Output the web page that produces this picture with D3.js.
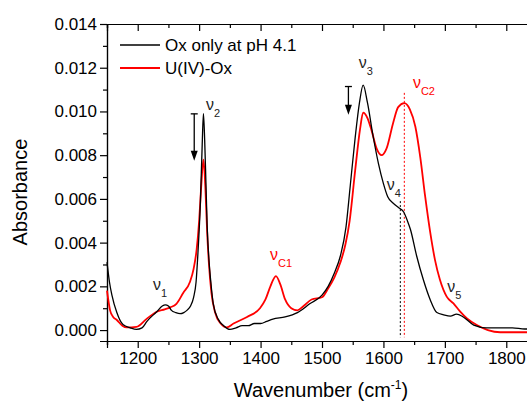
<!DOCTYPE html>
<html>
<head>
<meta charset="utf-8">
<script src="https://cdn.jsdelivr.net/npm/d3@7.9.0/dist/d3.min.js"></script>
<style>
  html, body { margin: 0; padding: 0; background: #fff; }
  svg { display: block; font-family: "Liberation Sans", Arial, sans-serif; }
  .axis path, .axis line { stroke: #000; stroke-width: 1.2; }
  .axis text { font-size: 17px; fill: #000; }
</style>
</head>
<body>
<div id="chart"></div>
<script>
// Ox only at pH 4.1 : [wavenumber, absorbance]
const oxOnly = [
  [1150, 0.0031], [1154, 0.0022], [1158, 0.0016], [1166, 0.0008], [1176, 0.00025],
  [1188, 0.0001], [1198, 0.00003], [1207, 0.0001], [1215, 0.0004], [1231, 0.00084],
  [1240, 0.0011], [1245, 0.00115], [1250, 0.0011], [1255, 0.0009], [1262, 0.0008],
  [1269, 0.00075], [1275, 0.0008], [1280, 0.0009], [1286, 0.0011], [1291, 0.0015],
  [1295, 0.0022], [1298, 0.0035], [1302, 0.0058], [1305, 0.0085], [1307, 0.0099],
  [1309, 0.0087], [1311, 0.0068], [1313, 0.0048], [1316, 0.0032], [1319, 0.0022],
  [1323, 0.0012], [1331, 0.0005], [1340, 0.0002], [1350, 0.00003], [1360, 0.0001],
  [1370, 0.0002], [1380, 0.0002], [1390, 0.0003], [1400, 0.0003], [1410, 0.0004],
  [1420, 0.0005], [1440, 0.0006], [1460, 0.0008], [1480, 0.0012], [1500, 0.0016],
  [1510, 0.0020], [1520, 0.0026], [1530, 0.0034], [1539, 0.0047], [1546, 0.0066],
  [1554, 0.0088], [1561, 0.0104], [1567, 0.0112], [1574, 0.0104], [1583, 0.0089],
  [1592, 0.0076], [1600, 0.0067], [1607, 0.0061], [1616, 0.0058], [1625, 0.0056],
  [1633, 0.0054], [1639, 0.0050], [1644, 0.0046], [1654, 0.0034], [1665, 0.0023],
  [1676, 0.0014], [1687, 0.0008], [1698, 0.0007], [1709, 0.00064], [1719, 0.00073],
  [1730, 0.0006], [1747, 0.00023], [1768, 0.0001], [1790, 0.0001], [1810, 0.0001],
  [1830, 0.00005], [1850, 0.00005]
];

// U(IV)-Ox
const uOx = [
  [1150, 0.0018], [1155, 0.0009], [1160, 0.0006], [1166, 0.00046], [1175, 0.0002],
  [1182, 0.00012], [1198, 0.00015], [1214, 0.0005], [1231, 0.00084], [1244, 0.00095],
  [1253, 0.00104], [1263, 0.0012], [1274, 0.0017], [1285, 0.0022], [1291, 0.0028],
  [1296, 0.0037], [1300, 0.0050], [1303, 0.0064], [1307, 0.0078], [1310, 0.0066],
  [1313, 0.0045], [1316, 0.0030], [1320, 0.0017], [1326, 0.0008], [1335, 0.0003],
  [1345, 0.00012], [1356, 0.0003], [1378, 0.0006], [1399, 0.0010], [1408, 0.0014],
  [1416, 0.0020], [1425, 0.00247], [1432, 0.0021], [1440, 0.0014], [1450, 0.0010],
  [1460, 0.0009], [1470, 0.0011], [1483, 0.0014], [1500, 0.0015], [1510, 0.0019],
  [1520, 0.0024], [1530, 0.0031], [1538, 0.0039], [1545, 0.0050], [1554, 0.0073],
  [1562, 0.0092], [1567, 0.00995], [1574, 0.0097], [1581, 0.0091], [1589, 0.0083],
  [1597, 0.0080], [1605, 0.0083], [1616, 0.0095], [1624, 0.0102], [1634, 0.01038],
  [1643, 0.0101], [1652, 0.0093], [1660, 0.0079], [1668, 0.0061], [1676, 0.0045],
  [1684, 0.0032], [1692, 0.0023], [1703, 0.00153], [1714, 0.00122], [1725, 0.00084],
  [1736, 0.00053], [1752, 0.00023], [1770, 0.0000], [1790, -0.0001], [1833, -0.0001],
  [1850, -0.0001]
];

const xMajorTicks = [1200, 1300, 1400, 1500, 1600, 1700, 1800];
const xMinorTicks = [1150, 1250, 1350, 1450, 1550, 1650, 1750, 1850];
const yMajorTicks = [0, 0.002, 0.004, 0.006, 0.008, 0.010, 0.012, 0.014];
const yMinorTicks = [0.001, 0.003, 0.005, 0.007, 0.009, 0.011, 0.013];

const legendLabels = ['Ox only at pH 4.1', 'U(IV)-Ox'];

// band labels: main text, subscript, anchor [wavenumber, absorbance], red?
const bandLabels = [
  { main: 'ν', sub: '1', at: [1225, 0.00183], red: false },
  { main: 'ν', sub: '2', at: [1311, 0.01008], red: false },
  { main: 'ν', sub: '3', at: [1560, 0.0120], red: false },
  { main: 'ν', sub: '4', at: [1605.5, 0.00641], red: false },
  { main: 'ν', sub: '5', at: [1704, 0.00175], red: false },
  { main: 'ν', sub: 'C1', at: [1415.5, 0.00321], red: true },
  { main: 'ν', sub: 'C2', at: [1648, 0.01108], red: true }
];

// arrows: wavenumber, top, tip
const arrows = [
  { w: 1292, from: 0.00989, to: 0.00774 },
  { w: 1543, from: 0.01114, to: 0.00985 }
];

// dashed marker lines
const markers = [
  { w: 1627.5, from: 0.0059, to: -0.00033, red: false },
  { w: 1634, from: 0.01085, to: -0.00033, red: true }
];

const width = 527;
const height = 403;
const margin = { top: 24, left: 107, bottom: 62 };

const svg = d3.select('#chart').append('svg')
  .attr('width', width)
  .attr('height', height);

const xScale = d3.scaleLinear().domain([1150, 1850]).range([margin.left, 537]);
const yScale = d3.scaleLinear().domain([-0.0005, 0.014]).range([height - margin.bottom, margin.top]);

// axes
svg.append('g').attr('class', 'axis')
  .attr('transform', `translate(0,${height - margin.bottom})`)
  .call(d3.axisBottom(xScale).tickValues(xMajorTicks).tickSize(7).tickPadding(4).tickFormat(d3.format('d')));
svg.append('g').attr('class', 'axis')
  .attr('transform', `translate(0,${height - margin.bottom})`)
  .call(d3.axisBottom(xScale).tickValues(xMinorTicks).tickSize(4).tickFormat(''));

svg.append('g').attr('class', 'axis')
  .attr('transform', `translate(0,${margin.top})`)
  .call(d3.axisBottom(xScale).tickValues(xMajorTicks).tickSize(7).tickFormat(''));
svg.append('g').attr('class', 'axis')
  .attr('transform', `translate(0,${margin.top})`)
  .call(d3.axisBottom(xScale).tickValues(xMinorTicks).tickSize(4).tickFormat(''));

svg.append('g').attr('class', 'axis')
  .attr('transform', `translate(${margin.left},0)`)
  .call(d3.axisLeft(yScale).tickValues(yMajorTicks).tickSize(7).tickPadding(3).tickFormat(d3.format('.3f')));
svg.append('g').attr('class', 'axis')
  .attr('transform', `translate(${margin.left},0)`)
  .call(d3.axisLeft(yScale).tickValues(yMinorTicks).tickSize(4).tickFormat(''));

svg.selectAll('.axis .domain').attr('stroke-width', 1.3);

// titles
svg.append('text')
  .attr('transform', 'translate(26.5,192) rotate(-90)')
  .attr('text-anchor', 'middle')
  .style('font-size', '20px')
  .text('Absorbance');

const xt = svg.append('text')
  .attr('x', 321).attr('y', 397)
  .attr('text-anchor', 'middle')
  .style('font-size', '20px');
xt.append('tspan').text('Wavenumber (cm');
xt.append('tspan').attr('dy', -8).style('font-size', '12px').text('-1');
xt.append('tspan').attr('dy', 8).text(')');

// dashed markers
svg.append('g').selectAll('line')
  .data(markers)
  .join('line')
  .attr('x1', (d) => xScale(d.w)).attr('x2', (d) => xScale(d.w))
  .attr('y1', (d) => yScale(d.from)).attr('y2', (d) => yScale(d.to))
  .attr('stroke', (d) => d.red ? '#ff0000' : '#000')
  .attr('stroke-width', 1)
  .attr('stroke-dasharray', '2,2');

// spectra
const line = d3.line()
  .x((d) => xScale(d[0]))
  .y((d) => yScale(d[1]))
  .curve(d3.curveMonotoneX);

svg.append('path').datum(uOx)
  .attr('d', line)
  .attr('fill', 'none')
  .attr('stroke', '#ff0000')
  .attr('stroke-width', 1.8);

svg.append('path').datum(oxOnly)
  .attr('d', line)
  .attr('fill', 'none')
  .attr('stroke', '#000')
  .attr('stroke-width', 1.3);

// arrows
const arr = svg.append('g').selectAll('g').data(arrows).join('g');
arr.append('line')
  .attr('x1', (d) => xScale(d.w)).attr('x2', (d) => xScale(d.w))
  .attr('y1', (d) => yScale(d.from)).attr('y2', (d) => yScale(d.to) - 8)
  .attr('stroke', '#000').attr('stroke-width', 1.3);
arr.append('line')
  .attr('x1', (d) => xScale(d.w) - 3.5).attr('x2', (d) => xScale(d.w) + 3.5)
  .attr('y1', (d) => yScale(d.from)).attr('y2', (d) => yScale(d.from))
  .attr('stroke', '#000').attr('stroke-width', 1.3);
arr.append('path')
  .attr('d', (d) => {
    const x = xScale(d.w), y = yScale(d.to);
    return `M${x},${y}L${x - 3.5},${y - 10}L${x + 3.5},${y - 10}Z`;
  })
  .attr('fill', '#000');

// band labels
const lbl = svg.append('g').selectAll('text')
  .data(bandLabels)
  .join('text')
  .attr('x', (d) => xScale(d.at[0]))
  .attr('y', (d) => yScale(d.at[1]))
  .attr('fill', (d) => d.red ? '#ff0000' : '#222')
  .style('font-size', '16px');
lbl.append('tspan').text((d) => d.main);
lbl.append('tspan').attr('dy', 7).style('font-size', '11px').text((d) => d.sub);

// legend
const legend = svg.append('g');
legend.selectAll('line')
  .data(legendLabels)
  .join('line')
  .attr('x1', 120).attr('x2', 160)
  .attr('y1', (d, i) => 45 + i * 23).attr('y2', (d, i) => 45 + i * 23)
  .attr('stroke', (d, i) => i === 0 ? '#000' : '#ff0000')
  .attr('stroke-width', (d, i) => i === 0 ? 1.3 : 1.8);
legend.selectAll('text')
  .data(legendLabels)
  .join('text')
  .attr('x', 165)
  .attr('y', (d, i) => 51 + i * 23)
  .style('font-size', '17px')
  .text((d) => d);
</script>
</body>
</html>
